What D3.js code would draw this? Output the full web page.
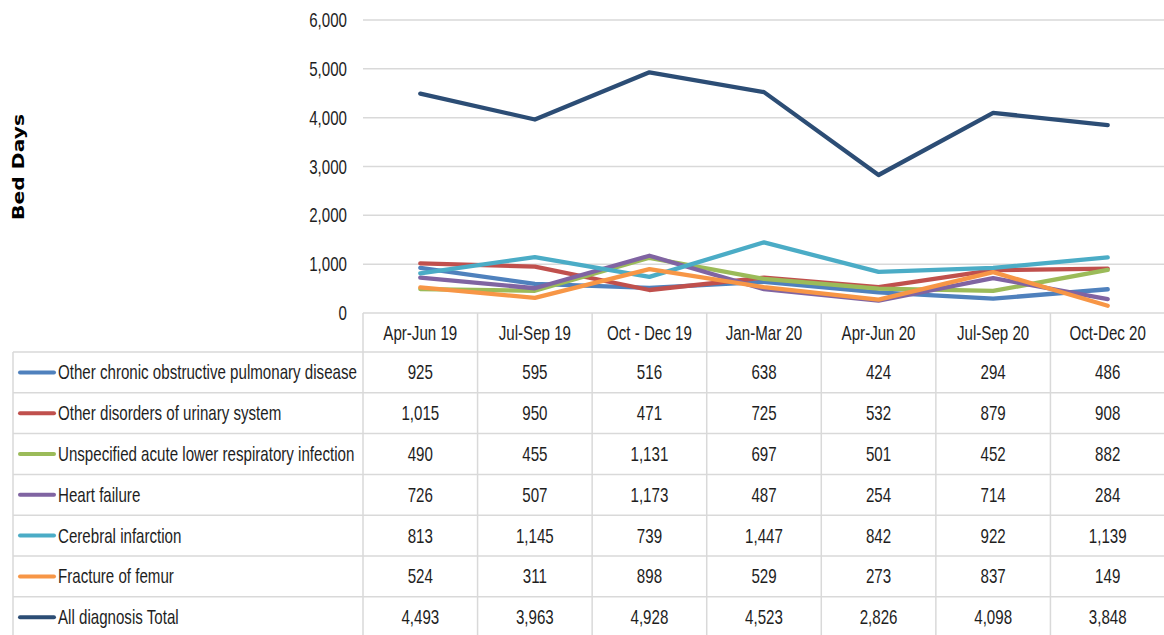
<!DOCTYPE html>
<html>
<head>
<meta charset="utf-8">
<script src="https://cdn.jsdelivr.net/npm/d3@7"></script>
<style>
  body { margin: 0; background: #fff; }
  text { font-family: "Liberation Sans", Arial, sans-serif; fill: #1e1e1e; }
</style>
</head>
<body>
<svg id="chart" width="1164" height="635"></svg>
<script>
// quarters along the x axis
var quarters = ["Apr-Jun 19", "Jul-Sep 19", "Oct - Dec 19", "Jan-Mar 20", "Apr-Jun 20", "Jul-Sep 20", "Oct-Dec 20"];

// one array per diagnosis, values
var copd      = [925, 595, 516, 638, 424, 294, 486];
var urinary   = [1015, 950, 471, 725, 532, 879, 908];
var lowerResp = [490, 455, 1131, 697, 501, 452, 882];
var heart     = [726, 507, 1173, 487, 254, 714, 284];
var cerebral  = [813, 1145, 739, 1447, 842, 922, 1139];
var femur     = [524, 311, 898, 529, 273, 837, 149];
var total     = [4493, 3963, 4928, 4523, 2826, 4098, 3848];

var seriesNames = ["Other chronic obstructive pulmonary disease", "Other disorders of urinary system",
  "Unspecified acute lower respiratory infection", "Heart failure", "Cerebral infarction",
  "Fracture of femur", "All diagnosis Total"];
var seriesColors = ["#4F81BD", "#C0504D", "#9BBB59", "#8064A2", "#4BACC6", "#F79646", "#2C4D75"];
var yTicks = [0, 1000, 2000, 3000, 4000, 5000, 6000];

var series = [copd, urinary, lowerResp, heart, cerebral, femur, total].map(function(v, i) {
  return { name: seriesNames[i], color: seriesColors[i], values: v };
});

var svg = d3.select("#chart");
var plotLeft = 363, plotRight = 1165, plotTop = 20, plotBottom = 313;
var tableLeft = 13, headerH = 39, rowH = 40.8;
var fs = 20;

var x = d3.scaleBand().domain(quarters).range([plotLeft, plotRight]).padding(0);
var y = d3.scaleLinear().domain([0, 6000]).range([plotBottom, plotTop]);
var fmt = d3.format(",");

// the source font is a squeezed one, so text gets a horizontal squeeze
var probe = svg.append("text").style("font-size", fs + "px").text(seriesNames[0]);
var sx = 299 / probe.node().getComputedTextLength();
probe.remove();

function label(sel, px, py, anchor, txt) {
  return sel.append("text")
    .attr("transform", "translate(" + px + "," + py + ") scale(" + sx + ",1)")
    .attr("dy", "0.35em")
    .attr("text-anchor", anchor)
    .style("font-size", fs + "px")
    .text(txt);
}

// gridlines
svg.append("g").selectAll("line")
  .data(yTicks.filter(function(d) { return d > 0; }))
  .enter().append("line")
  .attr("x1", plotLeft).attr("x2", plotRight)
  .attr("y1", function(d) { return y(d); }).attr("y2", function(d) { return y(d); })
  .attr("stroke", "#d9d9d9").attr("stroke-width", 1.5);

// y axis labels
var yAxis = svg.append("g");
yTicks.forEach(function(t) { label(yAxis, plotLeft - 16, y(t), "end", fmt(t)); });

svg.append("text")
  .attr("transform", "translate(24,167) rotate(-90)")
  .attr("text-anchor", "middle")
  .attr("textLength", 106)
  .attr("lengthAdjust", "spacingAndGlyphs")
  .style("font-family", "DejaVu Sans")
  .style("font-weight", "bold")
  .style("font-size", "16px")
  .style("fill", "#000")
  .text("Bed Days");

// lines
var line = d3.line()
  .x(function(d, i) { return x(quarters[i]) + x.bandwidth() / 2; })
  .y(function(d) { return y(d); });

svg.append("g").selectAll("path")
  .data(series)
  .enter().append("path")
  .attr("d", function(s) { return line(s.values); })
  .attr("fill", "none")
  .attr("stroke", function(s) { return s.color; })
  .attr("stroke-width", 4.3)
  .attr("stroke-linejoin", "round")
  .attr("stroke-linecap", "round");

// data table
var tbl = svg.append("g");
var gridColor = "#d9d9d9";
var rowsTop = plotBottom + headerH;
var tableBottom = rowsTop + series.length * rowH + 2;

tbl.append("line").attr("x1", plotLeft).attr("x2", plotRight).attr("y1", plotBottom).attr("y2", plotBottom)
  .attr("stroke", gridColor).attr("stroke-width", 1.5);
tbl.selectAll(".vline")
  .data(quarters)
  .enter().append("line")
  .attr("x1", function(d) { return x(d); }).attr("x2", function(d) { return x(d); })
  .attr("y1", plotBottom).attr("y2", tableBottom)
  .attr("stroke", gridColor).attr("stroke-width", 1.5);
tbl.append("line").attr("x1", tableLeft).attr("x2", tableLeft).attr("y1", rowsTop).attr("y2", tableBottom)
  .attr("stroke", gridColor).attr("stroke-width", 1.5);
tbl.selectAll(".hline")
  .data(series)
  .enter().append("line")
  .attr("x1", tableLeft).attr("x2", plotRight)
  .attr("y1", function(d, i) { return rowsTop + i * rowH; })
  .attr("y2", function(d, i) { return rowsTop + i * rowH; })
  .attr("stroke", gridColor).attr("stroke-width", 1.5);

quarters.forEach(function(q) {
  label(tbl, x(q) + x.bandwidth() / 2, plotBottom + headerH / 2, "middle", q);
});

series.forEach(function(s, r) {
  var cy = rowsTop + r * rowH + rowH / 2;
  tbl.append("line")
    .attr("x1", 20).attr("x2", 54).attr("y1", cy).attr("y2", cy)
    .attr("stroke", s.color)
    .attr("stroke-width", 4)
    .attr("stroke-linecap", "round");
  label(tbl, 58, cy, "start", s.name);
  s.values.forEach(function(v, i) {
    label(tbl, x(quarters[i]) + x.bandwidth() / 2, cy, "middle", fmt(v));
  });
});
</script>
</body>
</html>
